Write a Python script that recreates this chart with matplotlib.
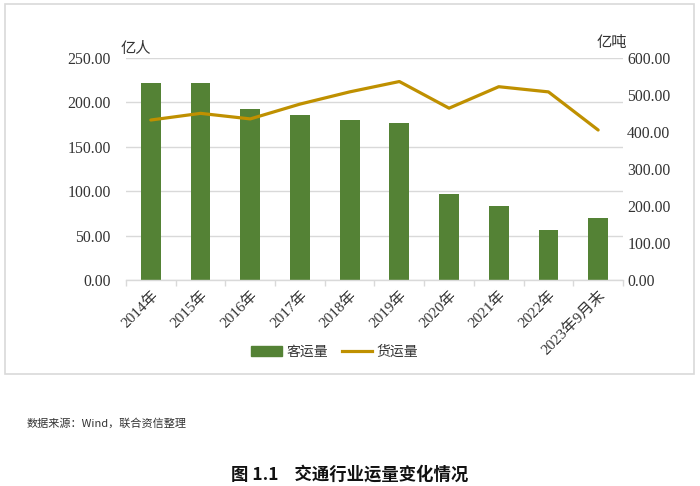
import matplotlib
matplotlib.use("Agg")
import matplotlib.pyplot as plt
from matplotlib.patches import Rectangle
from matplotlib.lines import Line2D

plt.rcParams['font.family'] = ['Liberation Serif', 'Noto Sans CJK SC', 'DejaVu Sans']

categories = ["2014年", "2015年", "2016年", "2017年", "2018年", "2019年",
              "2020年", "2021年", "2022年", "2023年9月末"]
passenger = [221.5, 222.0, 192.0, 185.4, 179.8, 176.4, 96.8, 83.3, 56.0, 69.8]
freight = [432, 450, 435, 475, 508, 536, 464, 522, 508, 405]
left_ticks = [0, 50, 100, 150, 200, 250]
right_ticks = [0, 100, 200, 300, 400, 500, 600]

bar_color = "#548235"
line_color = "#BF9000"
grid_color = "#D9D9D9"

fig = plt.figure(figsize=(7, 4.86), dpi=100)
ax = fig.add_axes([0.18, 0.424, 0.71, 0.457])
ax2 = ax.twinx()

x = list(range(len(categories)))
ax.bar(x, passenger, width=0.4, color=bar_color, zorder=2)
ax2.plot(x, freight, color=line_color, lw=2.3, solid_capstyle='round', zorder=3)

ax.set_xlim(-0.5, len(categories) - 0.5)
ax.set_ylim(0, 250)
ax2.set_ylim(0, 600)
ax.set_yticks(left_ticks)
ax.set_yticklabels([f"{v:.2f}" for v in left_ticks])
ax2.set_yticks(right_ticks)
ax2.set_yticklabels([f"{v:.2f}" for v in right_ticks])

for a in (ax, ax2):
    for s in a.spines.values():
        s.set_visible(False)
    a.tick_params(axis='y', length=0, labelsize=11.3, labelcolor="#333333")
ax.tick_params(axis='y', pad=11)
ax2.tick_params(axis='y', pad=3)
ax.spines['bottom'].set_visible(True)
ax.spines['bottom'].set_color(grid_color)
ax.spines['bottom'].set_linewidth(1.0)

ax.yaxis.grid(True, color=grid_color, lw=1.0, zorder=0)
ax.set_axisbelow(True)

ax.set_xticks(x)
ax.set_xticklabels(categories, rotation=45, ha='right', va='top',
                   rotation_mode='anchor', fontsize=11, color="#333333")
ax.tick_params(axis='x', length=0, pad=6)
ax.set_xticks([i - 0.5 for i in range(len(categories) + 1)], minor=True)
ax.tick_params(axis='x', which='minor', length=4, color=grid_color, width=1)

fig.text(121 / 700, 1 - 48 / 486, "亿人", fontsize=11, color="#333333",
         family=['Noto Sans CJK SC'], ha='left', va='center')
fig.text(627 / 700, 1 - 42 / 486, "亿吨", fontsize=11, color="#333333",
         family=['Noto Sans CJK SC'], ha='right', va='center')

# legend
handles = [Rectangle((0, 0), 1, 1, color=bar_color),
           Line2D([0], [0], color=line_color, lw=2.3)]
fig.legend(handles, ["客运量", "货运量"], loc='center', bbox_to_anchor=(0.478, 1 - 352 / 486),
           ncol=2, frameon=False, prop={'family': 'Noto Sans CJK SC', 'size': 10},
           handlelength=2.2, handletextpad=0.3, columnspacing=1.0, labelcolor="#333333")

# outer border
fig.patches.append(Rectangle((5 / 700, 1 - 374 / 486), 689 / 700, 370 / 486,
                             transform=fig.transFigure, fill=False,
                             edgecolor="#D9D9D9", lw=1.2))

fig.text(27 / 700, 1 - 423 / 486, "数据来源：Wind，联合资信整理", fontsize=8,
         color="#333333", family=['Noto Sans CJK SC', 'DejaVu Sans'], ha='left', va='center')
fig.text(0.5, 1 - 475 / 486, "图 1.1    交通行业运量变化情况", fontsize=12.5,
         fontweight='bold', color="#111111", family=['Noto Sans CJK SC', 'DejaVu Sans'],
         ha='center', va='center')

fig.savefig("out.png", dpi=100)
